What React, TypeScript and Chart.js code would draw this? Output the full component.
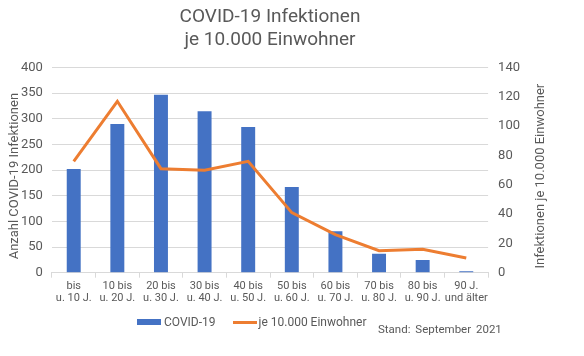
import React, { useEffect, useRef } from "react";
import { Chart, registerables } from "chart.js";

Chart.register(...registerables);

const categories: string[][] = [
  ["bis", "u. 10 J."],
  ["10 bis", "u. 20 J."],
  ["20 bis", "u. 30 J."],
  ["30 bis", "u. 40 J."],
  ["40 bis", "u. 50 J."],
  ["50 bis", "u. 60 J."],
  ["60 bis", "u. 70 J."],
  ["70 bis", "u. 80 J."],
  ["80 bis", "u. 90 J."],
  ["90 J.", "und älter"],
];
const covidCounts = [202, 290, 347, 315, 284, 167, 81, 37, 25, 3];
const per10000 = [76, 117, 71, 70, 76, 41, 26, 15, 16, 10];
const titleLines = ["COVID-19 Infektionen", "je 10.000 Einwohner"];
const leftAxisTitle = "Anzahl COVID-19 Infektionen";
const rightAxisTitle = "Infektionen je 10.000 Einwohner";
const standText = "Stand: September 2021";

const BLUE = "#4472C4";
const ORANGE = "#ED7D31";
const GREY = "#595959";
const GRID = "#d9d9d9";
const FONT = "Roboto, 'Liberation Sans', sans-serif";

const axisTitlesPlugin = {
  id: "axisTitles",
  afterDraw(chart: any) {
    const { ctx, chartArea } = chart;
    const cy = (chartArea.top + chartArea.bottom) / 2 + 6;
    const draw = (text: string, x: number) => {
      ctx.save();
      ctx.fillStyle = GREY;
      ctx.font = `13px ${FONT}`;
      ctx.textAlign = "center";
      ctx.textBaseline = "middle";
      ctx.translate(x, cy);
      ctx.rotate(-Math.PI / 2);
      ctx.fillText(text, 0, 0);
      ctx.restore();
    };
    draw(leftAxisTitle, 15);
    draw(rightAxisTitle, 541);
  },
};

export default function App() {
  const ref = useRef<HTMLCanvasElement | null>(null);
  useEffect(() => {
    document.body.style.margin = "0";
    const chart = new Chart(ref.current!, {
      type: "bar",
      data: {
        labels: categories,
        datasets: [
          {
            type: "line",
            label: "je 10.000 Einwohner",
            data: per10000,
            borderColor: ORANGE,
            backgroundColor: ORANGE,
            borderWidth: 3,
            pointRadius: 0,
            tension: 0,
            yAxisID: "y1",
            order: 0,
          },
          {
            type: "bar",
            label: "COVID-19",
            data: covidCounts,
            backgroundColor: BLUE,
            categoryPercentage: 1,
            barPercentage: 0.32,
            yAxisID: "y",
            order: 1,
          },
        ],
      },
      options: {
        animation: false,
        responsive: true,
        maintainAspectRatio: false,
        layout: { padding: { left: 12, right: 54, top: 6, bottom: 49 } },
        plugins: {
          legend: { display: false },
          tooltip: { enabled: false },
          title: {
            display: true,
            text: titleLines,
            color: GREY,
            font: { family: FONT, size: 19, weight: "normal", lineHeight: 1.2 },
            padding: { top: 0, bottom: 16 },
            fullSize: false,
          },
        },
        scales: {
          x: {
            offset: true,
            grid: {
              display: true,
              offset: true,
              drawOnChartArea: false,
              drawTicks: true,
              tickLength: 5,
              color: GRID,
            },
            border: { display: true, color: GRID, width: 1 },
            ticks: {
              color: GREY,
              font: { family: FONT, size: 11, lineHeight: 1.15 },
              maxRotation: 0,
              autoSkip: false,
              padding: 2,
            },
          },
          y: {
            position: "left",
            min: 0,
            max: 400,
            ticks: { stepSize: 50, color: GREY, font: { family: FONT, size: 13 }, padding: 9 },
            grid: { color: GRID, drawTicks: false },
            border: { display: false },
            title: { display: false },
          },
          y1: {
            position: "right",
            min: 0,
            max: 140,
            ticks: { stepSize: 20, color: GREY, font: { family: FONT, size: 13 }, padding: 10 },
            grid: { drawOnChartArea: false, drawTicks: false },
            border: { display: false },
            title: { display: false },
          },
        },
      },
      plugins: [axisTitlesPlugin],
    });
    return () => chart.destroy();
  }, []);

  return (
    <div style={{ position: "fixed", left: 0, top: 0, width: 584, height: 356, background: "#fff" }}>
      <canvas ref={ref} />
      <div
        style={{
          position: "absolute",
          left: 137,
          top: 315,
          display: "flex",
          alignItems: "center",
          fontFamily: FONT,
          fontSize: 12,
          color: GREY,
          whiteSpace: "nowrap",
        }}
      >
        <span style={{ display: "inline-block", width: 24, height: 6, background: BLUE, marginRight: 3 }} />
        <span>COVID-19</span>
        <span style={{ display: "inline-block", width: 24, height: 3, background: ORANGE, marginLeft: 17, marginRight: 2 }} />
        <span>je 10.000 Einwohner</span>
      </div>
      <div
        style={{
          position: "absolute",
          left: 378,
          top: 322,
          fontFamily: FONT,
          fontSize: 11.5,
          color: GREY,
          whiteSpace: "nowrap",
          wordSpacing: 2,
        }}
      >
        {standText}
      </div>
    </div>
  );
}
